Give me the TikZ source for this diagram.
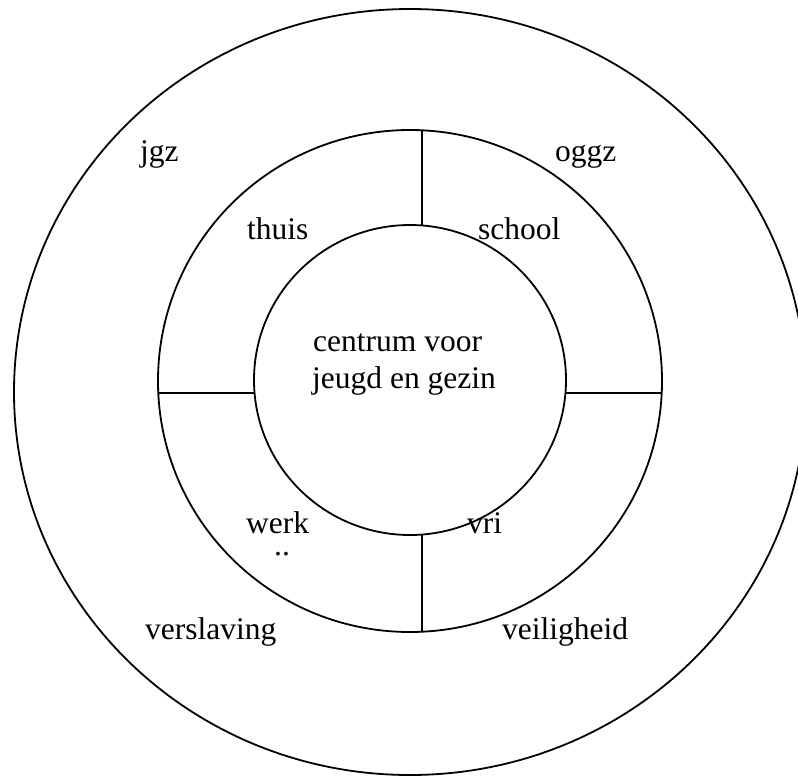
\documentclass[tikz,border=0pt]{standalone}
\usepackage{fontspec}
\setmainfont{Liberation Serif}
\begin{document}
\begin{tikzpicture}[x=1pt,y=-1pt,
  ring/.style={draw=black,line width=1.8pt},
  divider/.style={draw=black,line width=1.8pt},
  lbl/.style={inner sep=0pt,anchor=base west,font=\fontsize{31.5}{37}\selectfont}]
\useasboundingbox (0,0) rectangle (798,777);
\begin{scope}
\clip (0,0) rectangle (798,777);
% rings
\path[ring] (410,392) ellipse [x radius=396pt, y radius=383pt];
\path[ring] (410,381) ellipse [x radius=252pt, y radius=251pt];
\path[ring] (410,380) ellipse [x radius=156pt, y radius=155pt];
\end{scope}
% divider end points
\coordinate (mt) at (422,130.3);
\coordinate (it) at (422,225.5);
\coordinate (ib) at (422,534.5);
\coordinate (mb) at (422,631.7);
\coordinate (ml) at (158.3,393);
\coordinate (il) at (254.5,393);
\coordinate (ir) at (565.5,393);
\coordinate (mr) at (661.7,393);
\draw[divider] (mt) -- (it);
\draw[divider] (ib) -- (mb);
\draw[divider] (ml) -- (il);
\draw[divider] (ir) -- (mr);
% labels
\node[lbl] (jgz) at (140,161) {jgz};
\node[lbl] (oggz) at (555,161) {oggz};
\node[lbl] (thuis) at (247,239) {thuis};
\node[lbl] (school) at (478,239) {school};
\node[lbl] (c1) at (313,351) {centrum voor};
\node[lbl] (c2) at (312,388) {jeugd en gezin};
\node[lbl] (werk) at (246,533) {werk};
\node[lbl] (dots) at (274,555) {..};
\node[lbl] (vri) at (467,533) {vri};
\node[lbl] (versl) at (145,639) {verslaving};
\node[lbl] (veil) at (502,639) {veiligheid};
\end{tikzpicture}
\end{document}
